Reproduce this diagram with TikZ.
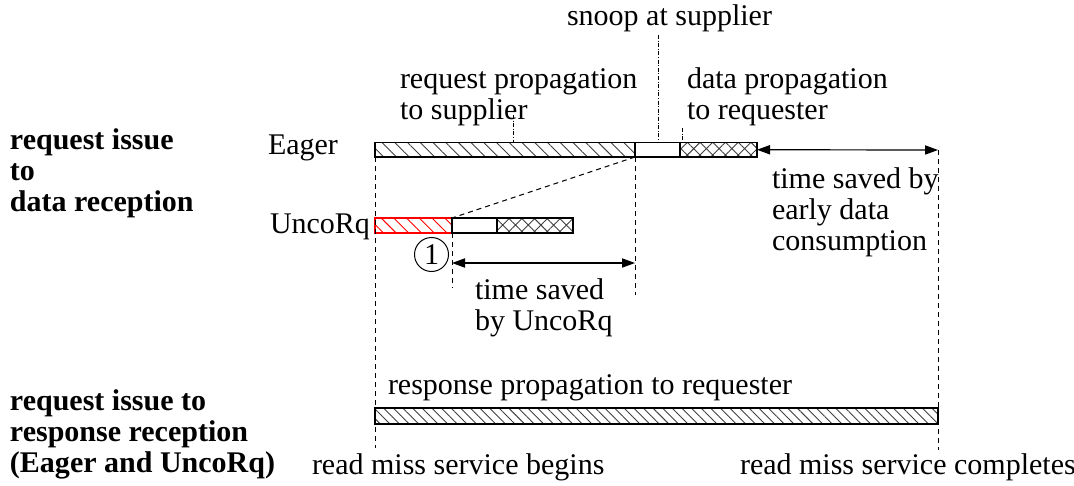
\documentclass[tikz,border=0pt]{standalone}
\usepackage{fontspec}
\setmainfont{Liberation Serif}
\usetikzlibrary{patterns.meta,arrows.meta}
\begin{document}
\begin{tikzpicture}[x=0.5pt,y=-0.5pt,
  % multi-line labels are placed by the baseline of their last line
  txt/.style={inner sep=0pt, outer sep=0pt, anchor=base west, align=left,
    font=\fontsize{15}{15.5}\selectfont},
  bold/.style={txt, font=\fontsize{15}{15.5}\selectfont\bfseries},
  seg/.style={draw, line width=0.6pt, inner sep=0pt, outer sep=0pt, anchor=north west},
  fwd/.style={pattern={Lines[angle=-45,distance=4.5pt,line width=0.45pt]}, pattern color=black!75},
  fine/.style={pattern={Lines[angle=-45,distance=3.4pt,line width=0.45pt]}, pattern color=black!75},
  cross/.style={pattern={Hatch[angle=45,distance=4.5pt,line width=0.45pt]}, pattern color=black!75},
  redfwd/.style={draw=red, pattern={Lines[angle=-45,distance=4.5pt,line width=0.45pt]}, pattern color=red},
  guide/.style={dash pattern=on 2.5pt off 2pt, line width=0.5pt},
  leader/.style={dash pattern=on 2pt off 0.8pt on 0.5pt off 0.8pt, line width=0.45pt},
  span/.style={{Triangle[length=6.5pt,width=4.6pt]}-{Triangle[length=6.5pt,width=4.6pt]}, line width=0.6pt}
]
\useasboundingbox (0,0) rectangle (1074,486);

% Eager timeline
\node[seg, fwd, minimum width=130pt, minimum height=7.25pt] (e1) at (375,142.5) {};
\node[seg, minimum width=22.5pt, minimum height=7.25pt] (e2) at (e1.north east) {};
\node[seg, cross, minimum width=38.5pt, minimum height=7.25pt] (e3) at (e2.north east) {};

% UncoRq timeline
\node[seg, redfwd, minimum width=38.5pt, minimum height=7.5pt] (u1) at (375,218) {};
\node[seg, minimum width=22.5pt, minimum height=7.5pt] (u2) at (u1.north east) {};
\node[seg, cross, minimum width=38pt, minimum height=7.5pt] (u3) at (u2.north east) {};

% response timeline
\node[seg, fine, minimum width=281.5pt, minimum height=8pt] (resp) at (375,408) {};

% guide lines
\coordinate (leftend) at (375,448);
\coordinate (righttop) at (938,150);
\coordinate (rightend) at (938,450);
\coordinate (midend) at (635,295);
\coordinate (uend) at (452,288);
\coordinate (ua) at (452,263);
\coordinate (ub) at (635,263);
\draw[guide] (e1.south west) -- (leftend);
\draw[guide] (righttop) -- (rightend);
\draw[guide] (e1.south east) -- (midend);
\draw[guide] (e1.south east) -- (u1.north east);
\draw[guide] (u1.south east) -- (uend);

% time-saved spans
\draw[span] (e3.east) -- (righttop);
\draw[span] (ua) -- (ub);

% leaders to the labelled phases
\coordinate (snooptop) at (658,35);
\coordinate (reqtop) at (513,115);
\coordinate (datatop) at (682,128);
\draw[leader] (snooptop) -- (snooptop |- e2.north);
\draw[leader] (reqtop) -- (reqtop |- e1.north);
\draw[leader] (datatop) -- (datatop |- e3.north);

% labels
\node[txt] (snoop) at (567,26) {snoop at supplier};
\node[txt] (reqprop) at (400,120) {request propagation\\to supplier};
\node[txt] (dataprop) at (687,120) {data propagation\\to requester};
\node[txt] (eager) at (268,155) {Eager};
\node[txt] (unco) at (270,233) {UncoRq};
\node[bold] (grp1) at (10,212) {request issue\\to\\data reception};
\node[bold] (grp2) at (10,472) {request issue to\\response reception\\(Eager and UncoRq)};
\node[txt] (early) at (772,250) {time saved by\\early data\\consumption};
\node[txt] (saved) at (475,330) {time saved\\by UncoRq};
\node[txt] (respl) at (388,394) {response propagation to requester};
\node[txt] (begins) at (312,474) {read miss service begins};
\node[txt] (completes) at (740,474) {read miss service completes};
\node[circle, draw, line width=0.5pt, minimum size=17pt, inner sep=0pt,
  font=\fontsize{15}{15}\selectfont] (one) at (431.5,254.5) {1};
\end{tikzpicture}
\end{document}
